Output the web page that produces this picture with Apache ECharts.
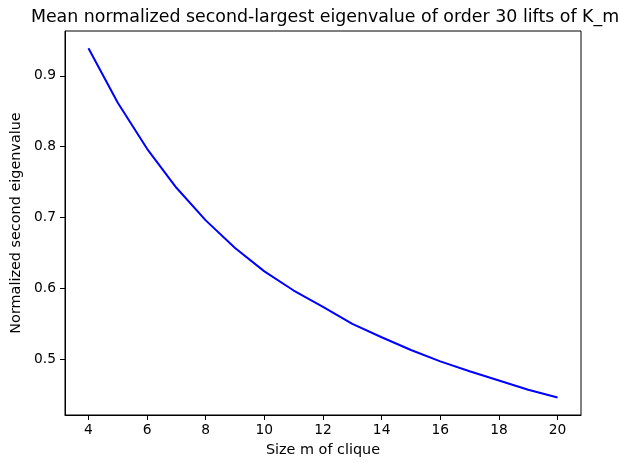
<!DOCTYPE html>
<html>
<head>
<meta charset="utf-8">
<script src="https://cdn.jsdelivr.net/npm/echarts@6/dist/echarts.min.js"></script>
<style>html,body{margin:0;padding:0;background:#fff}#c{width:619px;height:463px}</style>
</head>
<body>
<div id="c"></div>
<script>
var cliqueSizes = [4,5,6,7,8,9,10,11,12,13,14,15,16,17,18,19,20];
var eigenvalues = [0.939,0.862,0.797,0.742,0.696,0.657,0.624,0.597,0.574,0.550,0.531,0.513,0.497,0.483,0.470,0.457,0.446];
var xTicks = [4,6,8,10,12,14,16,18,20];
var yTicks = [0.5,0.6,0.7,0.8,0.9];
var titleText = 'Mean normalized second-largest eigenvalue of order 30 lifts of K_m';
var xName = 'Size m of clique';
var yName = 'Normalized second eigenvalue';

var font = 'DejaVu Sans';
var chart = echarts.init(document.getElementById('c'), null, {renderer:'canvas'});
chart.setOption({
  animation: false,
  backgroundColor: '#ffffff',
  title: {
    text: titleText, left: 320, top: 4, textAlign: 'center',
    textStyle: {fontFamily: font, fontSize: 17.4, fontWeight: 'normal', color: '#000'}
  },
  grid: {left: 65, right: 38, top: 31, bottom: 48, show: true, borderColor: '#000', borderWidth: 1, backgroundColor: 'transparent'},
  xAxis: {
    type: 'value', min: 3.2, max: 20.8,
    name: xName, nameLocation: 'middle', nameGap: 28,
    nameTextStyle: {fontFamily: font, fontSize: 14.4, color: '#000'},
    axisLine: {show: true, lineStyle: {color: '#000', width: 1}},
    axisTick: {show: true, customValues: xTicks, length: 5, lineStyle: {color: '#000'}},
    axisLabel: {customValues: xTicks, margin: 8, fontFamily: font, fontSize: 13.8, color: '#000'},
    splitLine: {show: false}
  },
  yAxis: {
    type: 'value', min: 0.4213, max: 0.9633,
    name: yName, nameLocation: 'middle', nameGap: 42, nameRotate: 90,
    nameTextStyle: {fontFamily: font, fontSize: 14.4, color: '#000'},
    axisLine: {show: true, lineStyle: {color: '#000', width: 1}},
    axisTick: {show: true, customValues: yTicks, length: 5, lineStyle: {color: '#000'}},
    axisLabel: {customValues: yTicks, margin: 9, fontFamily: font, fontSize: 13.8, color: '#000',
      formatter: function(v){ return v.toFixed(1); }},
    splitLine: {show: false}
  },
  series: [{
    type: 'line',
    data: cliqueSizes.map(function(x, i){ return [x, eigenvalues[i]]; }),
    showSymbol: false, symbol: 'none',
    lineStyle: {color: '#0000ff', width: 2},
    smooth: false
  }]
});
</script>
</body>
</html>
